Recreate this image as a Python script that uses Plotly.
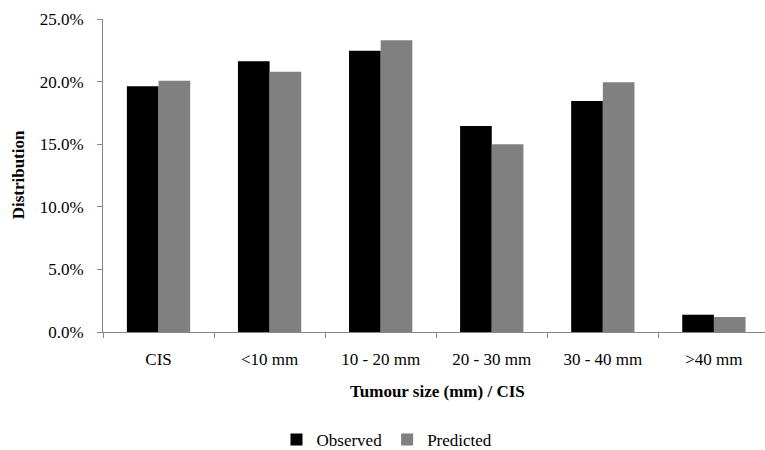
import plotly.graph_objects as go

categories = ["CIS", "<10 mm", "10 - 20 mm", "20 - 30 mm", "30 - 40 mm", ">40 mm"]
observed = [0.1963, 0.2163, 0.2247, 0.1646, 0.1846, 0.0138]
predicted = [0.2006, 0.2078, 0.2330, 0.1500, 0.1995, 0.0120]

FONT = "Liberation Serif, Times New Roman, serif"
AXIS_GREY = "#868686"

fig = go.Figure()
fig.add_trace(go.Bar(x=categories, y=observed, name="Observed",
                     marker=dict(color="#000000", line=dict(width=0))))
fig.add_trace(go.Bar(x=categories, y=predicted, name="Predicted",
                     marker=dict(color="#808080", line=dict(width=0))))

fig.update_layout(
    width=765, height=450,
    margin=dict(l=103, r=0, t=19, b=118, autoexpand=False),
    paper_bgcolor="white", plot_bgcolor="white",
    barmode="group", bargap=0.43, bargroupgap=0,
    font=dict(family=FONT, size=17, color="#000000"),
    showlegend=True,
    legend=dict(orientation="h", x=0.429, xanchor="center",
                yref="container", y=(450 - 440) / 450, yanchor="middle",
                font=dict(family=FONT, size=17), itemwidth=30, tracegroupgap=0,
                bgcolor="rgba(0,0,0,0)"),
    annotations=[
        dict(text="<b>Tumour size (mm) / CIS</b>", xref="paper", yref="paper",
             x=(437 - 103) / 662, y=(332.3 - 392) / 313.3, xanchor="center", yanchor="middle",
             showarrow=False, font=dict(family=FONT, size=17)),
        dict(text="<b>Distribution</b>", xref="paper", yref="paper",
             x=(18.5 - 103) / 662, y=(332.3 - 175) / 313.3, xanchor="center", yanchor="middle",
             textangle=-90, showarrow=False, font=dict(family=FONT, size=17)),
    ],
)

fig.update_xaxes(
    range=[-0.5, 5.46], showline=True, linecolor=AXIS_GREY, linewidth=1,
    ticks="outside", tickson="boundaries", ticklen=5, tickcolor=AXIS_GREY,
    showgrid=False, zeroline=False, tickfont=dict(family=FONT, size=17),
    ticklabelstandoff=12, automargin=False,
)
fig.update_yaxes(
    range=[0, 0.25], dtick=0.05, tickformat=".1%", showline=True, linecolor=AXIS_GREY,
    linewidth=1, ticks="outside", ticklen=5, tickcolor=AXIS_GREY, showgrid=False,
    zeroline=False, tickfont=dict(family=FONT, size=17), ticklabelstandoff=10,
    automargin=False,
)

fig.write_html("out.html", config={"displayModeBar": False},
               post_script="document.body.style.margin='0';document.body.style.overflow='hidden';")
